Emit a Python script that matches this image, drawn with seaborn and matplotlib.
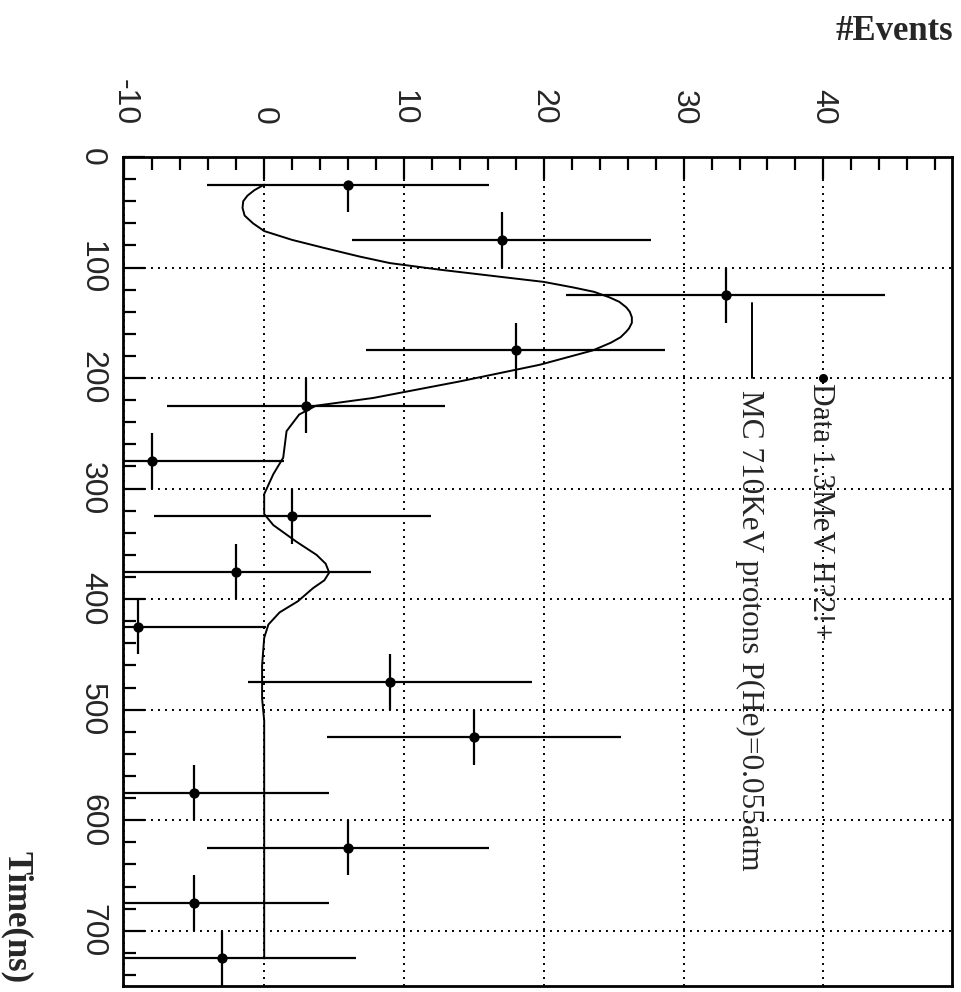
import numpy as np
import pandas as pd
import matplotlib
matplotlib.use("Agg")
import matplotlib.pyplot as plt
import seaborn as sns

# ---------------- data ----------------
time_ns = [25, 75, 125, 175, 225, 275, 325, 375, 425, 475, 525, 575, 625, 675, 725]
events = [6, 17, 33, 18, 3, -8, 2, -2, -9, 9, 15, -5, 6, -5, -3]
events_err = [10.1, 10.7, 11.4, 10.7, 9.95, 9.4, 9.9, 9.65, 9.1, 10.15, 10.5, 9.6, 10.1, 9.6, 9.6]
time_err_lo = [0, 25, 25, 25, 25, 25, 25, 25, 25, 25, 25, 25, 25, 25, 25]
time_err_hi = [25, 25, 25, 25, 25, 25, 25, 25, 25, 25, 25, 25, 25, 25, 25]

mc_time = [25, 30, 35, 40, 46, 53, 60, 67, 75, 82, 90, 96, 102, 109, 113, 118, 122, 127,
           131, 136, 140, 145, 150, 155, 158, 163, 168, 175, 188, 203, 218, 225, 233,
           248, 272, 287, 305, 323, 333, 348, 360, 368, 376, 383, 390, 402, 412, 423,
           435, 460, 490, 510, 725]
mc_events = [0, -0.7, -1.2, -1.5, -1.55, -1.4, -0.8, 0, 2.0, 4.2, 6.8, 9.0, 12.6, 17.3, 20.0, 22.1, 23.6, 24.7,
             25.4, 25.9, 26.15, 26.3, 26.3, 26.1, 25.9, 25.5, 24.8, 23.5, 19.7, 14.0, 7.8, 3.7, 2.5,
             1.6, 1.36, 0.65, 0.0, 0.0, 0.65, 2.3, 3.75, 4.4, 4.65, 4.3, 3.5, 2.4, 1.1, 0.3,
             0.0, -0.15, -0.15, 0.0, 0.0]

x_major = [-10, 0, 10, 20, 30, 40]
y_major = [0, 100, 200, 300, 400, 500, 600, 700]

legend_data_label = "Data 1.3MeV H?2!+"
legend_mc_label = "MC 710KeV protons P(He)=0.055atm"
xlabel_text = "#Events"
ylabel_text = "Time(ns)"

# ---------------- style ----------------
sns.set_style("white")
plt.rcParams["font.family"] = ["Liberation Sans", "DejaVu Sans"]
plt.rcParams["axes.unicode_minus"] = False
plt.rcParams["lines.scale_dashes"] = True

W, H = 962, 992
fig = plt.figure(figsize=(W / 100, H / 100), dpi=100)
ax = fig.add_axes([123 / W, (H - 986) / H, 829 / W, 829 / H])

df = pd.DataFrame({"time": time_ns, "events": events})
mc = pd.DataFrame({"time": mc_time, "events": mc_events})

# grid
for v in x_major:
    ax.axvline(v, color="black", lw=1.4, ls=(0, (1, 2.6)), zorder=1)
for v in y_major:
    ax.axhline(v, color="black", lw=1.4, ls=(0, (1, 2.6)), zorder=1)

# MC curve
sns.lineplot(data=mc, x="events", y="time", orient="y", estimator=None,
             color="black", lw=1.4, ax=ax, zorder=3)

# data with error bars
ax.errorbar(events, time_ns, xerr=events_err,
            yerr=[time_err_lo, time_err_hi], fmt="none",
            ecolor="black", elinewidth=1.6, capsize=0, zorder=4)
sns.scatterplot(data=df, x="events", y="time", color="black", s=55,
                edgecolor="black", linewidth=0, ax=ax, zorder=5)

ax.set_xlim(-10.1, 49.2)
ax.set_ylim(750, 0)

# ticks
ax.xaxis.set_ticks_position("top")
ax.set_xticks(x_major)
ax.set_xticks(np.arange(-10, 49.5, 2), minor=True)
ax.set_yticks(y_major)
ax.set_yticks(np.arange(0, 751, 20), minor=True)
ax.tick_params(axis="x", which="both", direction="in", top=True, bottom=False,
               labeltop=True, labelbottom=False, color="black", width=1.6)
ax.tick_params(axis="y", which="both", direction="in", left=True, right=False,
               color="black", width=1.6)
ax.tick_params(which="major", length=16)
ax.tick_params(which="minor", length=9)
ax.tick_params(axis="x", which="major", pad=23, labelsize=23, labelrotation=-90)
ax.tick_params(axis="y", which="major", pad=11.5, labelsize=23, labelrotation=-90)
for lab in ax.get_xticklabels():
    lab.set_verticalalignment("bottom")
    lab.set_horizontalalignment("center")
for lab in ax.get_yticklabels():
    lab.set_verticalalignment("center")
    lab.set_horizontalalignment("right")

ax.set_xlabel("")
ax.set_ylabel("")
for sp in ax.spines.values():
    sp.set_visible(True)
    sp.set_color("black")
    sp.set_linewidth(2)

# legend (drawn rotated like the reference)
ax.plot([0.8440], [0.7333], marker="o", ms=5.5, color="black",
        transform=ax.transAxes, clip_on=False, zorder=6)
ax.text(0.8408, 0.7274, legend_data_label, transform=ax.transAxes, rotation=-90,
        ha="center", va="top", fontsize=22.5, family=["Liberation Serif", "DejaVu Serif"])
ax.plot([0.7584, 0.7584], [0.8242, 0.7333], color="black", lw=1.4,
        transform=ax.transAxes, zorder=6)
ax.text(0.7563, 0.7189, legend_mc_label, transform=ax.transAxes, rotation=-90,
        ha="center", va="top", fontsize=22.5, family=["Liberation Serif", "DejaVu Serif"])

# axis titles
fig.text(953 / W, 1 - 32 / H, xlabel_text, ha="right", va="center", fontsize=25,
         fontweight="bold", family=["Liberation Serif", "DejaVu Serif"])
fig.text(17 / W, 1 - 983 / H, ylabel_text, ha="center", va="bottom", rotation=-90,
         fontsize=25, fontweight="bold", family=["Liberation Serif", "DejaVu Serif"])

fig.savefig("out.png", dpi=100)
